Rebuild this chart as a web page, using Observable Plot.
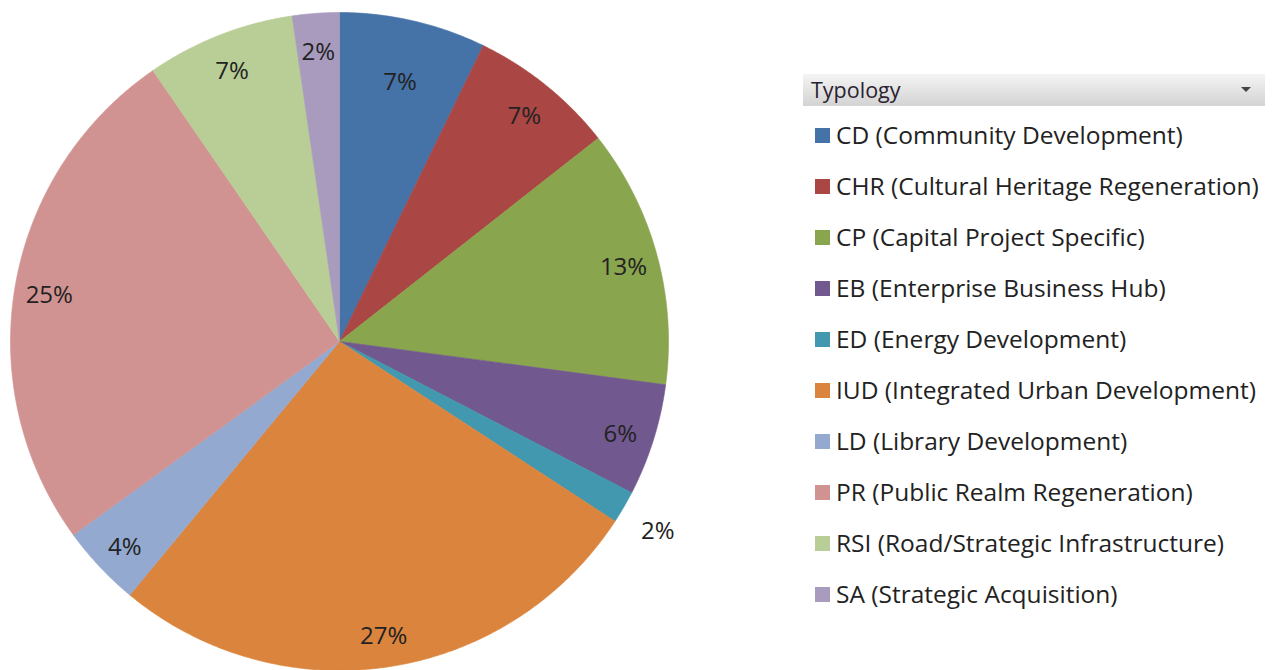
<!DOCTYPE html>
<html><head><meta charset="utf-8">
<script src="https://cdn.jsdelivr.net/npm/d3@7"></script>
<script src="https://cdn.jsdelivr.net/npm/@observablehq/plot@0.6"></script>
<style>
html,body{margin:0;padding:0;background:#fff;}
#wrap{position:relative;width:1272px;height:670px;overflow:hidden;font-family:"Open Sans",sans-serif;}
#chart{position:absolute;left:0;top:0;}
#legend{position:absolute;left:803px;top:74px;width:462px;}
#legend .hdr{position:relative;height:32px;background:linear-gradient(#f4f4f4,#d3d3d3);font-size:21.5px;line-height:32px;color:#2a2230;padding-left:8px;box-sizing:border-box;}
#legend .arrow{position:absolute;right:14px;top:13px;width:0;height:0;border-left:5px solid transparent;border-right:5px solid transparent;border-top:5px solid #444;}
#legend .row{position:relative;height:51px;}
#legend .sw{position:absolute;left:12px;top:22px;width:15px;height:15px;}
#legend .lb{position:absolute;left:33px;top:14px;font-size:24.5px;line-height:30px;color:#222;white-space:nowrap;}
</style></head>
<body><div id="wrap"><div id="chart"></div><div id="legend"></div></div>
<script>
const codes = ["CD","CHR","CP","EB","ED","IUD","LD","PR","RSI","SA"];
const names = ["CD (Community Development)","CHR (Cultural Heritage Regeneration)","CP (Capital Project Specific)","EB (Enterprise Business Hub)","ED (Energy Development)","IUD (Integrated Urban Development)","LD (Library Development)","PR (Public Realm Regeneration)","RSI (Road/Strategic Infrastructure)","SA (Strategic Acquisition)"];
const shares = [7.2, 7.2, 12.7, 5.5, 1.6, 26.8, 4.0, 25.4, 7.3, 2.3];
const colors = ["#4572A7","#AA4643","#89A54E","#71588F","#4198AF","#DB843D","#93A9CF","#D19392","#B9CD96","#A99BBD"];
const legendTitle = "Typology";

const W = 700, H = 670, CX = 339, CY = 341, R = 329;
const total = d3.sum(shares);
const pts = [], labels = [];
let acc = 0;
codes.forEach((c, i) => {
  const a0 = acc / total * 2 * Math.PI;
  acc += shares[i];
  const a1 = acc / total * 2 * Math.PI;
  pts.push({code: c, x: CX, y: CY});
  const n = Math.max(2, Math.ceil((a1 - a0) / (Math.PI / 360)));
  for (let k = 0; k <= n; k++) {
    const a = a0 + (a1 - a0) * k / n;
    pts.push({code: c, x: CX + R * Math.sin(a), y: CY - R * Math.cos(a)});
  }
  pts.push({code: c, x: CX, y: CY});
  const am = (a0 + a1) / 2;
  // label placement: outside for the tiny ED slice, inside end otherwise
  const rr = c === "ED" ? R * 1.12 : (i === 0 ? R * 0.82 : R * 0.895);
  labels.push({code: c, x: CX + rr * Math.sin(am), y: CY - rr * Math.cos(am), text: Math.round(shares[i] / total * 100) + "%"});
});

const plot = Plot.plot({
  width: W, height: H, margin: 0,
  x: {domain: [0, W], range: [0, W], axis: null},
  y: {domain: [0, H], range: [0, H], axis: null},
  color: {domain: codes, range: colors},
  style: {fontFamily: "'Open Sans', sans-serif", background: "transparent"},
  marks: [
    Plot.line(pts, {x: "x", y: "y", z: "code", fill: "code", stroke: "code", strokeWidth: 0.6, curve: "linear"}),
    Plot.text(labels, {x: "x", y: "y", text: "text", fontSize: 24, fill: "#222", dy: 4})
  ]
});
document.getElementById("chart").appendChild(plot);

const lg = document.getElementById("legend");
const hdr = document.createElement("div");
hdr.className = "hdr"; hdr.textContent = legendTitle;
const ar = document.createElement("div"); ar.className = "arrow"; hdr.appendChild(ar);
lg.appendChild(hdr);
names.forEach((nm, i) => {
  const row = document.createElement("div"); row.className = "row";
  const sw = document.createElement("div"); sw.className = "sw"; sw.style.background = colors[i];
  const lb = document.createElement("div"); lb.className = "lb"; lb.textContent = nm;
  row.appendChild(sw); row.appendChild(lb); lg.appendChild(row);
});
</script></body></html>
